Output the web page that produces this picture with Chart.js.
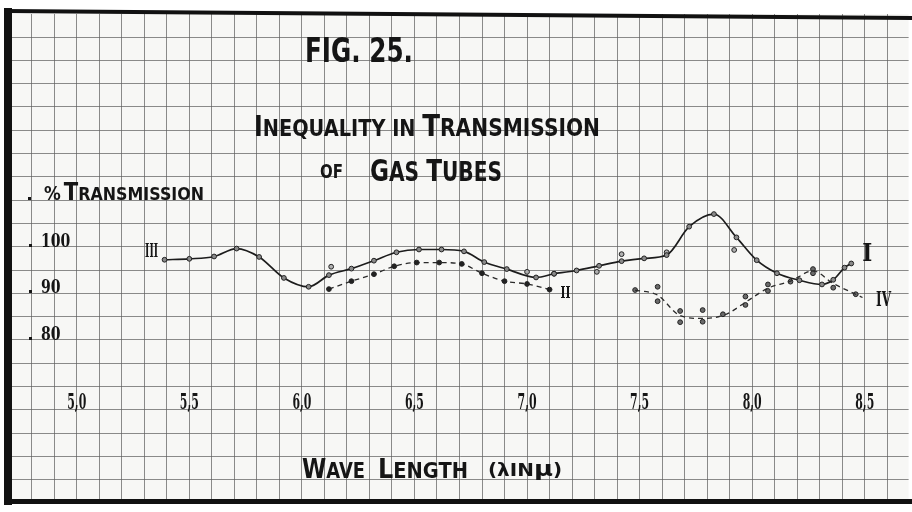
<!DOCTYPE html>
<html>
<head>
<meta charset="utf-8">
<script src="https://cdn.jsdelivr.net/npm/chart.js@4.4.1/dist/chart.umd.min.js"></script>
<style>
  html, body { margin: 0; padding: 0; background: #ffffff; }
  canvas { display: block; }
</style>
</head>
<body>
<canvas id="c" width="912" height="512"></canvas>
<script>
// ---------------- DATA ----------------
// Curve III (solid) : wave length (µ) / % transmission
const wlIII = [5.39, 5.50, 5.61, 5.71, 5.81, 5.92, 6.03, 6.12, 6.22, 6.32, 6.42, 6.52, 6.62, 6.72, 6.81, 6.91, 7.04, 7.12];
const trIII = [97.2, 97.4, 97.9, 99.6, 97.8, 93.3, 91.4, 93.9, 95.3, 97.0, 98.8, 99.4, 99.4, 99.0, 96.7, 95.2, 93.4, 94.2];
// Curve I (solid)
const wlI = [7.12, 7.22, 7.32, 7.42, 7.52, 7.62, 7.72, 7.83, 7.93, 8.02, 8.11, 8.21, 8.31, 8.36, 8.41, 8.44];
const trI = [94.2, 94.9, 95.9, 96.9, 97.5, 98.2, 104.3, 107.0, 102.0, 97.1, 94.3, 92.8, 91.9, 92.9, 95.5, 96.4];
// Curve II (dashed)
const wlII = [6.12, 6.22, 6.32, 6.41, 6.51, 6.61, 6.71, 6.80, 6.90, 7.00, 7.10];
const trII = [90.9, 92.6, 94.1, 95.8, 96.6, 96.6, 96.3, 94.3, 92.6, 92.0, 90.8];
// Curve IV (dashed, smooth curve)
const wlIV = [7.48, 7.58, 7.68, 7.78, 7.88, 7.98, 8.07, 8.17, 8.27, 8.36, 8.46, 8.49];
const trIV = [90.7, 89.6, 85.2, 84.6, 85.4, 88.4, 91.1, 92.6, 94.8, 92.1, 89.8, 89.1];
// Observed points around curve IV
const obsIVwl = [7.48, 7.58, 7.58, 7.68, 7.68, 7.78, 7.78, 7.87, 7.97, 7.97, 8.07, 8.07, 8.17, 8.27, 8.27, 8.36, 8.46];
const obsIVtr = [90.7, 91.4, 88.3, 86.2, 83.8, 86.4, 83.9, 85.5, 87.5, 89.3, 91.9, 90.5, 92.5, 95.2, 94.3, 91.2, 89.8];
// Scattered observations off the solid curves
const obsSolidWl = [6.13, 7.00, 7.31, 7.42, 7.62, 7.92];
const obsSolidTr = [95.7, 94.6, 94.6, 98.4, 98.8, 99.3];

// Tick labels
const xTickVals = [5.0, 5.5, 6.0, 6.5, 7.0, 7.5, 8.0, 8.5];
const xTickLabels = ['5,0', '5,5', '6,0', '6,5', '7,0', '7,5', '8,0', '8,5'];
const yTickVals = [100, 90, 80];
const yTickLabels = ['100', '90', '80'];
// Curve names
const curveNames = ['III', 'I', 'II', 'IV'];

// ---------------- helpers ----------------
const pts = (xs, ys) => xs.map((x, i) => ({ x: x, y: ys[i] }));
const INK = '#151515';
const SANS = "'DejaVu Sans', 'Liberation Sans', sans-serif";
const SERIF = "'DejaVu Serif', 'Liberation Serif', serif";

// draw a run of [text, size] segments, squeezed to a target width
function drawRun(ctx, segs, x, y, width, family, kFixed) {
  ctx.save();
  let total = 0;
  segs.forEach(([t, s]) => { ctx.font = 'bold ' + s + 'px ' + family; total += ctx.measureText(t).width; });
  const k = kFixed ? kFixed : width / total;
  ctx.translate(x, y);
  ctx.scale(k, 1);
  ctx.fillStyle = INK;
  ctx.textBaseline = 'alphabetic';
  ctx.textAlign = 'left';
  let cx = 0;
  segs.forEach(([t, s]) => {
    ctx.font = 'bold ' + s + 'px ' + family;
    ctx.fillText(t, cx, 0);
    cx += ctx.measureText(t).width;
  });
  ctx.restore();
  return total * k;
}

const paperPlugin = {
  id: 'paper',
  beforeDraw(chart) {
    const { ctx, chartArea: a } = chart;
    ctx.save();
    ctx.fillStyle = '#ffffff';
    ctx.fillRect(0, 0, chart.width, chart.height);
    ctx.fillStyle = '#f7f7f5';
    ctx.fillRect(a.left, a.top, a.right - a.left, a.bottom - a.top);
    ctx.restore();
  },
  afterDraw(chart) {
    const { ctx } = chart;
    const xs = chart.scales.x, ys = chart.scales.y;
    ctx.save();
    // paper borders
    ctx.fillStyle = '#111';
    ctx.fillRect(4, 8, 8, 497);
    ctx.fillRect(4, 499, 908, 5);
    ctx.strokeStyle = '#111';
    ctx.lineWidth = 4;
    ctx.beginPath(); ctx.moveTo(4, 11); ctx.lineTo(912, 18); ctx.stroke();

    // titles
    drawRun(ctx, [['FIG. 25.', 33]], 305, 62, 108, SANS);
    drawRun(ctx, [['I', 28], ['NEQUALITY IN ', 23], ['T', 31], ['RANSMISSION', 24]], 254, 136, 346, SANS);
    drawRun(ctx, [['OF', 19]], 320, 178, 23, SANS);
    drawRun(ctx, [['G', 31], ['AS ', 27], ['T', 31], ['UBES', 27]], 370, 181, 132, SANS);

    // y-axis title
    ctx.fillStyle = INK;
    ctx.fillRect(28, 197, 3, 3);
    drawRun(ctx, [['%', 19], [' ', 10], ['T', 24], ['RANSMISSION', 18]], 44, 200, 160, SANS);

    // x-axis title
    drawRun(ctx, [['W', 27], ['AVE', 22]], 302, 478, 63, SANS);
    drawRun(ctx, [['L', 27], ['ENGTH', 22]], 378, 478, 90, SANS);
    drawRun(ctx, [['(λIN', 17], ['μ', 22], [')', 17]], 488, 476, 74, SANS);

    // y tick labels
    yTickVals.forEach((v, i) => {
      const py = Math.round(ys.getPixelForValue(v));
      ctx.fillStyle = INK;
      ctx.fillRect(29, py - 3, 3, 3);
      drawRun(ctx, [[yTickLabels[i], 19]], 41, py, 0, SERIF, 0.74);
    });

    // x tick labels
    const base = Math.round(ys.getPixelForValue(65)) - 1;
    xTickVals.forEach((v, i) => {
      const px = xs.getPixelForValue(v);
      drawRun(ctx, [[xTickLabels[i], 22]], px - 9.5, base, 19, SERIF);
    });

    // curve names placed beside curve ends
    const ends = [
      { name: curveNames[0], v: [wlIII[0], trIII[0]], dx: -13, dy: -9, size: 18, w: 13 },
      { name: curveNames[1], v: [wlI[wlI.length - 1], trI[trI.length - 1]], dx: 16, dy: -11, size: 24, w: 10 },
      { name: curveNames[2], v: [wlII[wlII.length - 1], trII[trII.length - 1]], dx: 16, dy: 2, size: 17, w: 10 },
      { name: curveNames[3], v: [wlIV[wlIV.length - 1], trIV[trIV.length - 1]], dx: 21, dy: 1, size: 21, w: 15 }
    ];
    ends.forEach(e => {
      const px = xs.getPixelForValue(e.v[0]) + e.dx;
      const py = ys.getPixelForValue(e.v[1]) + e.dy;
      drawRun(ctx, [[e.name, e.size]], px - e.w / 2, py + e.size * 0.36, e.w, SERIF);
    });
    ctx.restore();
  }
};

const markerBase = {
  pointRadius: 2.4,
  pointBorderWidth: 1,
  pointBorderColor: '#222',
  pointHoverRadius: 2.4
};

new Chart(document.getElementById('c'), {
  type: 'line',
  data: {
    datasets: [
      Object.assign({
        label: 'III', data: pts(wlIII, trIII),
        borderColor: '#1c1c1c', borderWidth: 1.7, cubicInterpolationMode: 'monotone',
        pointBackgroundColor: '#8a8a8a', fill: false
      }, markerBase),
      Object.assign({
        label: 'I', data: pts(wlI, trI),
        borderColor: '#1c1c1c', borderWidth: 1.7, cubicInterpolationMode: 'monotone',
        pointBackgroundColor: '#8a8a8a', fill: false
      }, markerBase),
      Object.assign({
        label: 'II', data: pts(wlII, trII),
        borderColor: '#2a2a2a', borderWidth: 1.3, borderDash: [5, 4], cubicInterpolationMode: 'monotone',
        pointBackgroundColor: '#222', fill: false
      }, markerBase),
      {
        label: 'IV', data: pts(wlIV, trIV),
        borderColor: '#2a2a2a', borderWidth: 1.3, borderDash: [5, 4], cubicInterpolationMode: 'monotone',
        pointRadius: 0, fill: false
      },
      Object.assign({
        label: 'IV obs', data: pts(obsIVwl, obsIVtr), showLine: false,
        pointBackgroundColor: '#6a6a6a'
      }, markerBase),
      Object.assign({
        label: 'obs', data: pts(obsSolidWl, obsSolidTr), showLine: false,
        pointBackgroundColor: '#b0b0b0'
      }, markerBase)
    ]
  },
  options: {
    responsive: false,
    animation: false,
    events: [],
    layout: { padding: { left: 12, top: 14, right: 0, bottom: 12 } },
    plugins: { legend: { display: false }, tooltip: { enabled: false }, title: { display: false } },
    scales: {
      x: {
        type: 'linear', min: 4.7124, max: 8.6947,
        ticks: { display: false },
        grid: { color: 'rgba(95,95,95,0.72)', lineWidth: 1, drawTicks: false },
        border: { display: false },
        afterBuildTicks: s => { const t = []; for (let i = 48; i <= 86; i++) t.push({ value: i / 10 }); s.ticks = t; }
      },
      y: {
        type: 'linear', min: 45.64, max: 149.94,
        ticks: { display: false },
        grid: { color: 'rgba(95,95,95,0.72)', lineWidth: 1, drawTicks: false },
        border: { display: false },
        afterBuildTicks: s => { const t = []; for (let v = 50; v <= 145; v += 5) t.push({ value: v }); s.ticks = t; }
      }
    }
  },
  plugins: [paperPlugin]
});
</script>
</body>
</html>
